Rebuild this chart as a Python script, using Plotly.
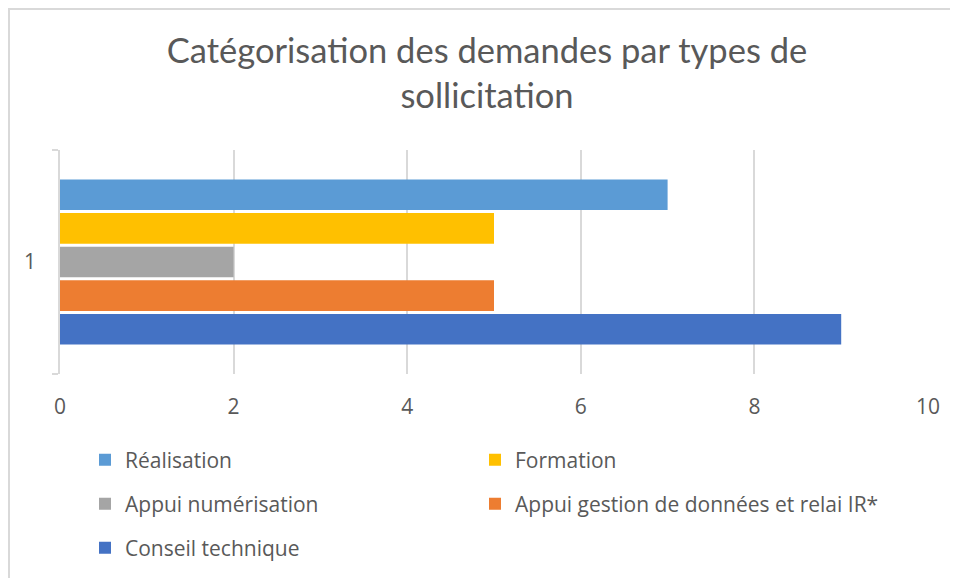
import plotly.graph_objects as go

# data (bottom to top, as plotly draws grouped horizontal bars)
categories = ["1"]
series_names = ["Conseil technique", "Appui gestion de données et relai IR*",
                "Appui numérisation", "Formation", "Réalisation"]
series_values = [[9], [5], [2], [5], [7]]
series_colors = ["#4472C4", "#ED7D31", "#A5A5A5", "#FFC000", "#5B9BD5"]
x_ticks = [0, 2, 4, 6, 8, 10]

# legend grid under the chart: (column, row)
legend_cells = {
    "Réalisation": (0, 0), "Formation": (1, 0),
    "Appui numérisation": (0, 1), "Appui gestion de données et relai IR*": (1, 1),
    "Conseil technique": (0, 2),
}

TFONT = "Lato, sans-serif"
FONT = "Open Sans, sans-serif"
GREY = "#595959"

fig = go.Figure()
legend_ids = {}
for i, (name, vals, col) in enumerate(zip(series_names, series_values, series_colors)):
    lid = "legend" if i == 0 else f"legend{i + 1}"
    legend_ids[name] = lid
    fig.add_trace(go.Bar(
        y=categories, x=vals, name=name, orientation="h",
        marker=dict(color=col, line=dict(width=0)),
        legend=lid,
    ))

# the page body has an 8px margin, so figure px = page px - 8
# plot area wanted at page 60..928 x 150..374
L, R, T, B = 52, 38, 142, 212
W, H = 958, 578
pw, ph = W - L - R, H - T - B

def px_x(p):
    return (p - L) / pw

def px_y(p):
    return (H - B - p) / ph

legends = {}
for name, (c, r) in legend_cells.items():
    legends[legend_ids[name]] = dict(
        orientation="h",
        font=dict(family=FONT, size=21, color=GREY),
        xref="container", yref="container",
        x=(77 + 390 * c) / W, xanchor="left",
        y=1 - (452 + 44 * r) / H, yanchor="middle",
        bgcolor="rgba(0,0,0,0)",
    )

fig.update_layout(
    width=W, height=H,
    margin=dict(l=L, r=R, t=T, b=B, autoexpand=False),
    paper_bgcolor="white", plot_bgcolor="white",
    barmode="group", bargap=0.25, bargroupgap=0.09,
    title=dict(
        text="Catégorisation des demandes par types de<br>sollicitation",
        font=dict(family=TFONT, size=34.5, color=GREY),
        x=(487 - 8) / W, xanchor="center", y=1 - 55 / H, yanchor="top",
    ),
    xaxis=dict(
        range=[0, 10], tickvals=x_ticks, showgrid=True, automargin=False,
        gridcolor="#D9D9D9", gridwidth=1.5, zeroline=False,
        showline=False, ticks="", ticklabelstandoff=18,
        tickfont=dict(family=FONT, size=21, color=GREY),
    ),
    yaxis=dict(
        type="category", showline=True, linecolor="#D9D9D9", linewidth=1.5,
        ticks="outside", ticklen=6, tickcolor="#D9D9D9", tickwidth=1.5,
        tickson="boundaries", ticklabelstandoff=18, showgrid=False, automargin=False,
        tickfont=dict(family=FONT, size=21, color=GREY),
    ),
    showlegend=True,
    **legends,
)

# chart frame (the reference is cropped: only top and left edges visible)
fig.add_shape(type="rect", xref="paper", yref="paper",
              x0=px_x(1), y0=px_y(700), x1=px_x(1100), y1=px_y(1),
              line=dict(color="#D9D9D9", width=2), fillcolor="rgba(0,0,0,0)", layer="below")

fig.write_html("out.html")
